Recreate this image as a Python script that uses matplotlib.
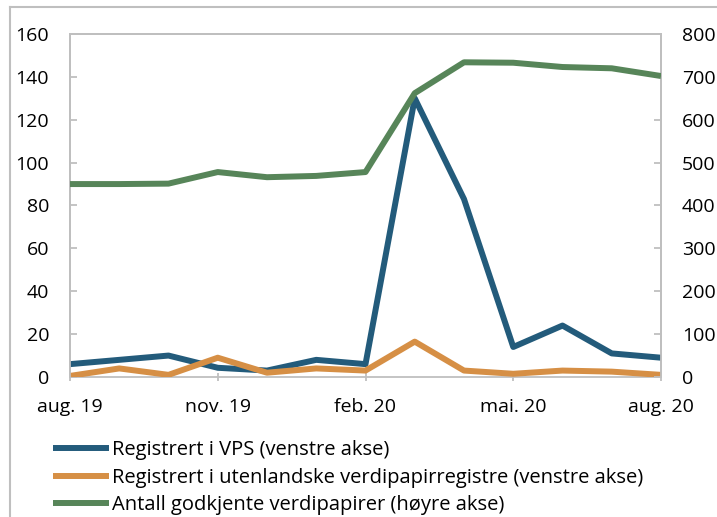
import numpy as np
import matplotlib
matplotlib.use('Agg')
import matplotlib.pyplot as plt
from matplotlib.lines import Line2D

plt.rcParams['font.family'] = ['Open Sans', 'DejaVu Sans']

# månedlige observasjoner aug. 19 - aug. 20
months = ['aug. 19', 'sep. 19', 'okt. 19', 'nov. 19', 'des. 19', 'jan. 20', 'feb. 20',
          'mar. 20', 'apr. 20', 'mai. 20', 'jun. 20', 'jul. 20', 'aug. 20']
vps = [6, 8, 10, 4.3, 3, 8, 6, 130, 83, 14, 24, 11, 9]
utenlandske = [0.5, 4, 1, 9, 2, 4, 3, 16.5, 3, 1.5, 3, 2.5, 1]
godkjente = [450, 450, 451, 478, 466, 469, 478, 662, 734, 733, 723, 720, 702]

c_blue = '#235B7B'
c_orange = '#D68F45'
c_green = '#578559'
c_grey = '#BFBFBF'

x = np.arange(len(months))

fig = plt.figure(figsize=(7.17, 5.17), dpi=100)
ax = fig.add_axes([70/717, 140/517, 591/717, 343/517])
ax2 = ax.twinx()

l1, = ax.plot(x, vps, color=c_blue, linewidth=4.3, solid_capstyle='butt', zorder=3)
l2, = ax.plot(x, utenlandske, color=c_orange, linewidth=4.3, solid_capstyle='butt', zorder=3)
l3, = ax2.plot(x, godkjente, color=c_green, linewidth=4.3, solid_capstyle='butt', zorder=3)

ax.set_xlim(0, len(months)-1)
ax.set_ylim(0, 160)
ax2.set_ylim(0, 800)
ax.set_yticks(np.arange(0, 161, 20))
ax2.set_yticks(np.arange(0, 801, 100))
ax.set_xticks(x[::3])
ax.set_xticklabels(months[::3])

for a in (ax, ax2):
    for s in a.spines.values():
        s.set_color(c_grey)
        s.set_linewidth(1.3)
    a.tick_params(axis='y', direction='in', length=5, width=1.3, color=c_grey,
                  labelsize=14, pad=15)
ax.tick_params(axis='x', direction='inout', length=6, width=1.3, color=c_grey,
               labelsize=14, pad=12)
ax2.spines['bottom'].set_visible(False)

leg = fig.legend([l1, l2, l3],
                 ['Registrert i VPS (venstre akse)',
                  'Registrert i utenlandske verdipapirregistre (venstre akse)',
                  'Antall godkjente verdipapirer (høyre akse)'],
                 loc='upper left', bbox_to_anchor=(45/717, 1 - 432/517),
                 frameon=False, fontsize=14.5, handlelength=2.8, handletextpad=0.15,
                 labelspacing=0.38, borderaxespad=0)

# ramme rundt figuren
fig.add_artist(Line2D([10/717, 10/717], [0, 1 - 7/517], transform=fig.transFigure,
                      color=c_grey, linewidth=1.5))
fig.add_artist(Line2D([10/717, 1], [1 - 7/517, 1 - 7/517], transform=fig.transFigure,
                      color=c_grey, linewidth=1.5))

fig.savefig('out.png', dpi=100)
